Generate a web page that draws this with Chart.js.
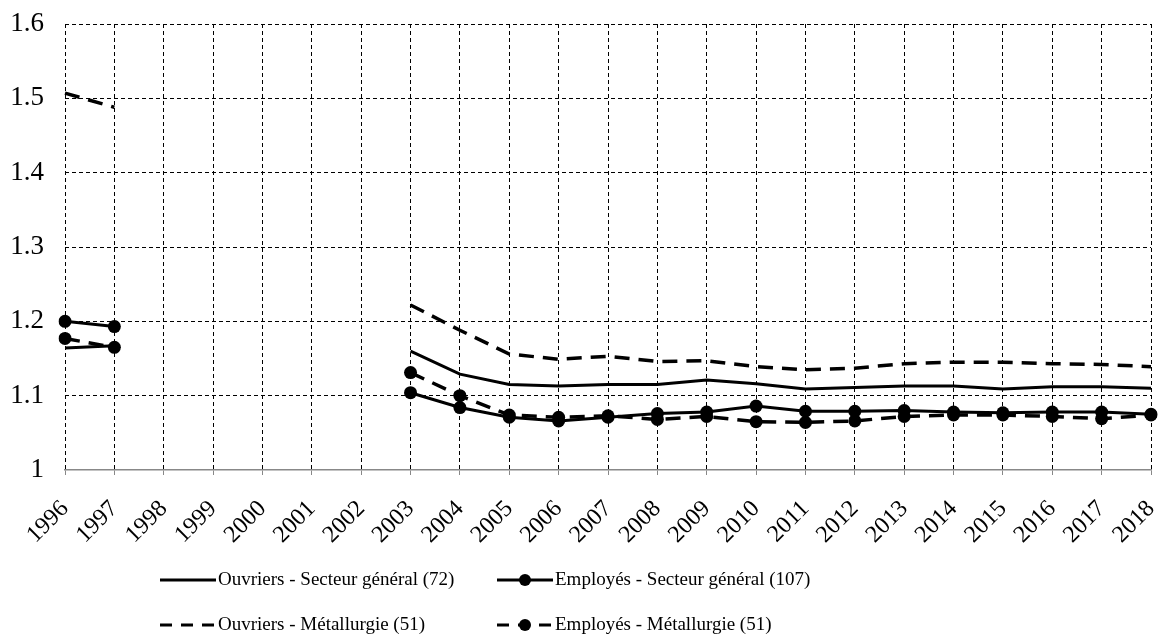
<!DOCTYPE html>
<html><head><meta charset="utf-8">
<script src="https://cdn.jsdelivr.net/npm/chart.js@4.4.0/dist/chart.umd.min.js"></script>
<style>html,body{margin:0;padding:0;background:#fff;}canvas{display:block;}</style>
</head><body>
<canvas id="c" width="1158" height="644"></canvas>
<script>
const years = ['1996','1997','1998','1999','2000','2001','2002','2003','2004','2005','2006','2007','2008','2009','2010','2011','2012','2013','2014','2015','2016','2017','2018'];
const ouvriersGeneral = [1.164,1.167,null,null,null,null,null,1.160,1.129,1.115,1.113,1.115,1.115,1.121,1.116,1.109,1.111,1.113,1.113,1.109,1.112,1.112,1.110];
const employesGeneral = [1.200,1.193,null,null,null,null,null,1.104,1.084,1.071,1.066,1.071,1.076,1.078,1.086,1.079,1.079,1.080,1.078,1.077,1.078,1.078,1.075];
const ouvriersMetal = [1.507,1.488,null,null,null,null,null,1.222,1.188,1.156,1.149,1.153,1.146,1.147,1.139,1.135,1.137,1.143,1.145,1.145,1.143,1.142,1.139];
const employesMetal = [1.177,1.165,null,null,null,null,null,1.131,1.100,1.074,1.071,1.073,1.068,1.072,1.065,1.064,1.066,1.072,1.074,1.074,1.072,1.069,1.074];
const yTicks = [1, 1.1, 1.2, 1.3, 1.4, 1.5, 1.6];
const seriesNames = ['Ouvriers - Secteur général (72)','Employés - Secteur général (107)','Ouvriers - Métallurgie (51)','Employés - Métallurgie (51)'];

const FONT = '"Liberation Serif", serif';
const DASH = [15, 9];

const legendPlugin = {
  id: 'customLegend',
  afterDraw(chart) {
    const ctx = chart.ctx;
    const items = [
      {x: 160, y: 580, dash: [], marker: false, text: seriesNames[0]},
      {x: 497, y: 580, dash: [], marker: true, text: seriesNames[1]},
      {x: 160, y: 625, dash: [12, 9], marker: false, text: seriesNames[2]},
      {x: 497, y: 625, dash: [12, 9], marker: true, text: seriesNames[3]}
    ];
    ctx.save();
    items.forEach(it => {
      ctx.strokeStyle = '#000';
      ctx.lineWidth = 3;
      ctx.setLineDash(it.dash);
      ctx.beginPath();
      ctx.moveTo(it.x, it.y);
      ctx.lineTo(it.x + 56, it.y);
      ctx.stroke();
      ctx.setLineDash([]);
      if (it.marker) {
        ctx.fillStyle = '#000';
        ctx.beginPath();
        ctx.arc(it.x + 28, it.y, 6, 0, Math.PI * 2);
        ctx.fill();
      }
      ctx.fillStyle = '#000';
      ctx.font = '19px ' + FONT;
      ctx.textBaseline = 'middle';
      ctx.textAlign = 'left';
      ctx.fillText(it.text, it.x + 58, it.y);
    });
    ctx.restore();
  }
};

Chart.defaults.font.family = FONT;
new Chart(document.getElementById('c'), {
  type: 'line',
  data: {
    labels: years,
    datasets: [
      {label: seriesNames[0], data: ouvriersGeneral, borderColor: '#000', backgroundColor: '#000', borderWidth: 3, pointRadius: 0, tension: 0, spanGaps: false},
      {label: seriesNames[1], data: employesGeneral, borderColor: '#000', backgroundColor: '#000', borderWidth: 3, pointRadius: 6.5, pointBackgroundColor: '#000', pointBorderWidth: 0, tension: 0, spanGaps: false},
      {label: seriesNames[2], data: ouvriersMetal, borderColor: '#000', backgroundColor: '#000', borderWidth: 3.5, borderDash: DASH, pointRadius: 0, tension: 0, spanGaps: false},
      {label: seriesNames[3], data: employesMetal, borderColor: '#000', backgroundColor: '#000', borderWidth: 3.5, borderDash: DASH, pointRadius: 6.5, pointBackgroundColor: '#000', pointBorderWidth: 0, tension: 0, spanGaps: false}
    ]
  },
  options: {
    responsive: false,
    animation: false,
    devicePixelRatio: 1,
    layout: {padding: {top: 24, right: 7, left: 0, bottom: 100}},
    plugins: {legend: {display: false}, tooltip: {enabled: false}},
    scales: {
      x: {
        offset: false,
        grid: {color: '#000', lineWidth: 1, drawTicks: true, tickLength: 5, tickColor: '#888', tickBorderDash: [], tickWidth: 1},
        border: {display: true, color: '#888', width: 1.5, dash: [4, 3]},
        ticks: {minRotation: 45, maxRotation: 45, autoSkip: false, color: '#000', font: {family: FONT, size: 24}, padding: 20},
        afterFit: s => { s.height = 74; s.paddingLeft = 0; s.paddingRight = 0; }
      },
      y: {
        min: 1, max: 1.6,
        afterBuildTicks: s => { s.ticks = yTicks.map(v => ({value: v})); },
        grid: {color: c => (c.tick && c.tick.value === 1) ? 'rgba(0,0,0,0)' : '#000', lineWidth: 1, drawTicks: false},
        border: {display: false, dash: [4, 3]},
        ticks: {color: '#000', font: {family: FONT, size: 27}, padding: 21, crossAlign: 'near', callback: v => String(v)},
        afterFit: s => { s.width = 65; s.paddingTop = 0; s.paddingBottom = 0; }
      }
    }
  },
  plugins: [legendPlugin]
});
</script>
</body></html>
